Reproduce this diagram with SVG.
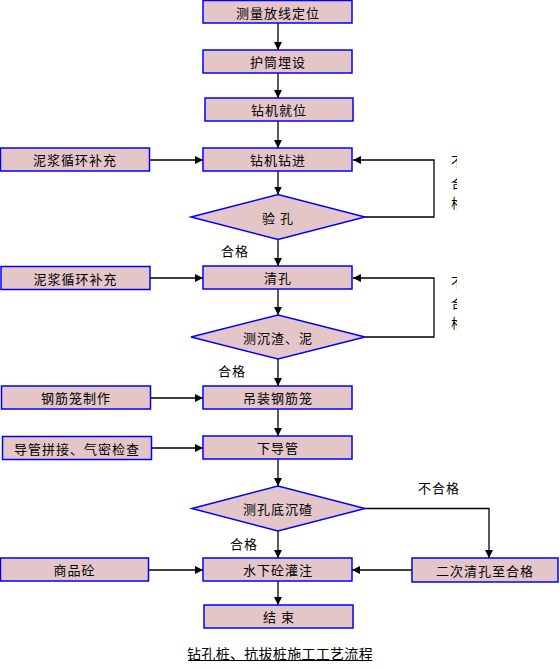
<svg xmlns="http://www.w3.org/2000/svg" width="560" height="670" viewBox="0 0 560 670">
<style>
.box{fill:#E4C5C8;stroke:#0000FF;stroke-width:1.5}
.t{font-family:"Noto Sans CJK SC","Liberation Sans",sans-serif;font-size:13px;letter-spacing:1px;fill:#000;text-anchor:middle;dominant-baseline:central}
.lbl{font-family:"Noto Sans CJK SC","Liberation Sans",sans-serif;font-size:13px;letter-spacing:1px;fill:#000;text-anchor:middle;dominant-baseline:central}
.c{fill:none;stroke:#000;stroke-width:1.3}
</style>
<defs>
<marker id="ah" markerUnits="userSpaceOnUse" markerWidth="9" markerHeight="9" refX="8" refY="4" orient="auto">
<path d="M0,0 L8,4 L0,8 z" fill="#000"/>
</marker>
<clipPath id="clipR"><rect x="440" y="140" width="17" height="200"/></clipPath>
</defs>
<rect width="560" height="670" fill="#fff"/>
<g id="connectors">
<path class="c" marker-end="url(#ah)" d="M278,23 V50"/>
<path class="c" marker-end="url(#ah)" d="M278,73 V98"/>
<path class="c" marker-end="url(#ah)" d="M278,121 V148"/>
<path class="c" marker-end="url(#ah)" d="M278,171 V194.5"/>
<path class="c" marker-end="url(#ah)" d="M278,239.5 V266"/>
<path class="c" marker-end="url(#ah)" d="M278,289 V315"/>
<path class="c" marker-end="url(#ah)" d="M278,359 V386"/>
<path class="c" marker-end="url(#ah)" d="M278,409 V436"/>
<path class="c" marker-end="url(#ah)" d="M278,459 V486"/>
<path class="c" marker-end="url(#ah)" d="M278,531 V558"/>
<path class="c" marker-end="url(#ah)" d="M278,581 V605"/>
<path class="c" marker-end="url(#ah)" d="M150,160 H203"/>
<path class="c" marker-end="url(#ah)" d="M150,278 H203"/>
<path class="c" marker-end="url(#ah)" d="M150,398 H203"/>
<path class="c" marker-end="url(#ah)" d="M151,448 H203"/>
<path class="c" marker-end="url(#ah)" d="M148,570 H203"/>
<path class="c" marker-end="url(#ah)" d="M365,217 H434 V160 H353"/>
<path class="c" marker-end="url(#ah)" d="M365,337 H434 V278 H353"/>
<path class="c" marker-end="url(#ah)" d="M365,508.5 H489 V558"/>
<path class="c" marker-end="url(#ah)" d="M412,570 H352"/>
</g>
<g id="n1"><rect class="box" x="203" y="0.5" width="149" height="22.5"/><text class="t" x="278" y="12">测量放线定位</text></g>
<g id="n2"><rect class="box" x="203" y="50" width="149" height="23"/><text class="t" x="278" y="61.5">护筒埋设</text></g>
<g id="n3"><rect class="box" x="205" y="98" width="148" height="23"/><text class="t" x="279" y="109.5">钻机就位</text></g>
<g id="n4"><rect class="box" x="203" y="148" width="149" height="23"/><text class="t" x="278" y="159.5">钻机钻进</text></g>
<g id="d1"><polygon class="box" points="191,217 278,194.5 365,217 278,239.5"/><text class="t" x="278" y="217">验 孔</text></g>
<g id="n5"><rect class="box" x="203" y="266" width="149" height="23"/><text class="t" x="278" y="277.5">清孔</text></g>
<g id="d2"><polygon class="box" points="191,337 278,315 365,337 278,359"/><text class="t" x="278" y="337">测沉渣、泥</text></g>
<g id="n6"><rect class="box" x="203" y="386" width="149" height="23"/><text class="t" x="278" y="397.5">吊装钢筋笼</text></g>
<g id="n7"><rect class="box" x="203" y="436" width="149" height="23"/><text class="t" x="278" y="447.5">下导管</text></g>
<g id="d3"><polygon class="box" points="192,508.5 278,486 365,508.5 278,531"/><text class="t" x="278" y="508.5">测孔底沉碴</text></g>
<g id="n8"><rect class="box" x="203" y="558" width="149" height="23"/><text class="t" x="278" y="569.5">水下砼灌注</text></g>
<g id="n9"><rect class="box" x="204" y="605" width="149" height="23"/><text class="t" x="279" y="616.5">结 束</text></g>
<g id="l1"><rect class="box" x="0.5" y="148" width="149" height="23"/><text class="t" x="75" y="159.5">泥浆循环补充</text></g>
<g id="l2"><rect class="box" x="1" y="266.5" width="149" height="23"/><text class="t" x="75.5" y="278">泥浆循环补充</text></g>
<g id="l3"><rect class="box" x="1.5" y="386" width="149" height="23"/><text class="t" x="76" y="397.5">钢筋笼制作</text></g>
<g id="l4"><rect class="box" x="2.5" y="436.5" width="149" height="23"/><text class="t" x="77" y="448">导管拼接、气密检查</text></g>
<g id="l5"><rect class="box" x="0.5" y="558" width="148" height="23"/><text class="t" x="74.5" y="569.5">商品砼</text></g>
<g id="r1"><rect class="box" x="412" y="558" width="146" height="24"/><text class="t" x="485" y="570">二次清孔至合格</text></g>
<g id="labels">
<text class="lbl" x="235" y="250">合格</text>
<text class="lbl" x="232" y="370">合格</text>
<text class="lbl" x="244" y="543">合格</text>
<text class="lbl" x="439" y="487">不合格</text>
<g clip-path="url(#clipR)">
<text class="lbl" x="458" y="160">不</text>
<text class="lbl" x="458" y="182">合</text>
<text class="lbl" x="458" y="202">格</text>
<text class="lbl" x="458" y="281">不</text>
<text class="lbl" x="458" y="302">合</text>
<text class="lbl" x="458" y="322">格</text>
</g>
</g>
<g id="title">
<text x="280" y="653" style="font-family:'Noto Sans CJK SC','Liberation Sans',sans-serif;font-size:14px;letter-spacing:0.3px;text-anchor:middle;dominant-baseline:central">钻孔桩、抗拔桩施工工艺流程</text>
<line x1="188" y1="660.5" x2="372" y2="660.5" stroke="#000" stroke-width="1"/>
</g>
</svg>
